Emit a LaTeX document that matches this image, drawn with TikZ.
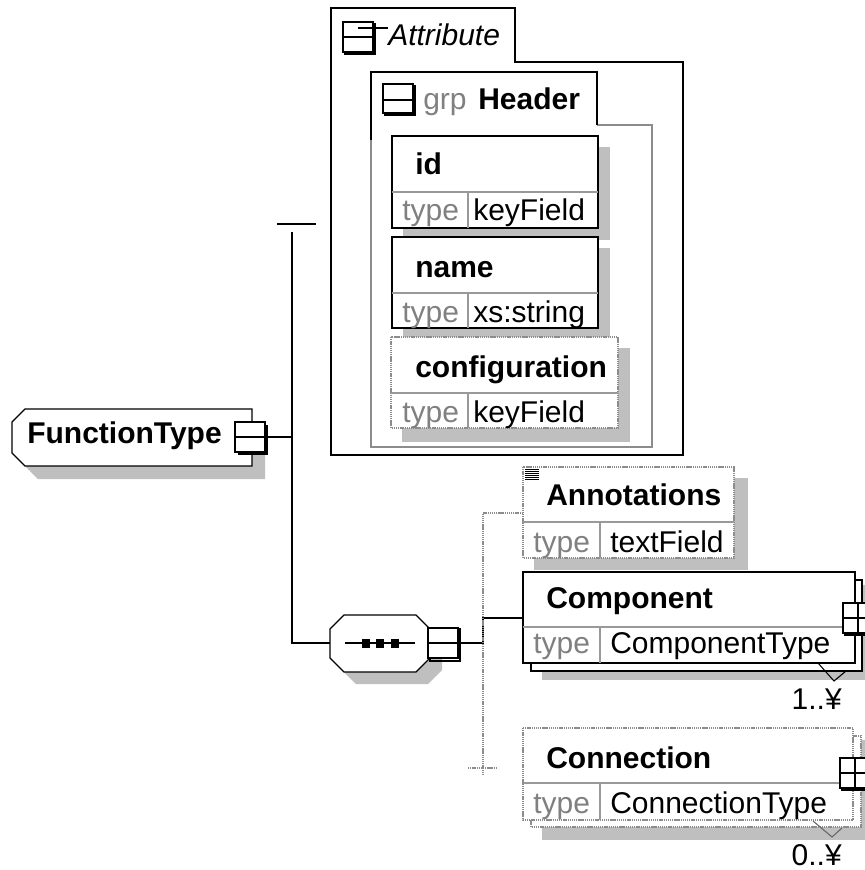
\documentclass[tikz,border=0pt]{standalone}
\usepackage{fontspec}
\setmainfont{Liberation Sans}
\tikzset{
  shade/.style={fill=black!25, draw=none},
  solidbox/.style={draw=black, line width=1pt, fill=white},
  optbox/.style={draw=black!45, line width=0.8pt, dash pattern=on 1pt off 0.6pt, fill=white},
  divider/.style={draw=black!40, line width=0.8pt},
  link/.style={draw=black, line width=1pt},
  optlink/.style={draw=black!45, line width=0.8pt, dash pattern=on 1pt off 0.6pt},
  iconbox/.style={draw=black, line width=1pt, fill=white, minimum size=22.5pt, inner sep=0pt},
  lbl/.style={anchor=base west, inner sep=0pt},
  greylbl/.style={lbl, text=black!50}
}
\begin{document}
\begin{tikzpicture}[x=0.75pt, y=-0.75pt, font=\fontsize{22.5}{27}\selectfont]
\useasboundingbox (0,0) rectangle (864,870);

% attribute frame
\draw[solidbox] (331,455) -- (331,8) -- (515,8) -- (515,62) -- (683,62) -- (683,455) -- cycle;
\draw[line width=1pt] (345,24) rectangle (375,54);
\draw[line width=1pt, fill=white] (343,22) rectangle (373,52);
\draw[line width=0.8pt] (343,37) -- (373,37);
\draw[line width=0.8pt] (358,28) -- (388,28);
\node[lbl] (attr) at (388,46) {\itshape Attribute};

% group Header
\draw[draw=black!45, line width=0.8pt] (597,125) -- (652,125) -- (652,447) -- (371,447) -- (371,125);
\draw[line width=1pt] (371,140) -- (371,72) -- (597,72) -- (597,125);
\draw[line width=1pt] (385,86) rectangle (415,115);
\draw[line width=1pt, fill=white] (383,84) rectangle (413,113);
\draw[line width=0.8pt] (383,100) -- (413,100);
\node[greylbl] (grp) at (423,110) {grp};
\node[lbl] (header) at (478,110) {\bfseries Header};

% id
\fill[shade] (403,147) rectangle (610,240);
\draw[solidbox] (392,136) rectangle (598,228);
\draw[divider] (392,192) -- (598,192) (468,192) -- (468,228);
\node[lbl] (idname) at (415,175) {\bfseries id};
\node[greylbl] (idtype) at (402,220) {type};
\node[lbl] (idval) at (473,220) {keyField};

% name
\fill[shade] (403,248) rectangle (610,340);
\draw[solidbox] (392,237) rectangle (598,328);
\draw[divider] (392,293) -- (598,293) (468,293) -- (468,328);
\node[lbl] (nmname) at (415,277) {\bfseries name};
\node[greylbl] (nmtype) at (402,322) {type};
\node[lbl] (nmval) at (473,322) {xs:string};

% configuration
\fill[shade] (402,348) rectangle (630,442);
\draw[optbox] (391,337) rectangle (618,428);
\draw[divider] (391,393) -- (618,393) (468,393) -- (468,428);
\node[lbl] (cfname) at (415,377) {\bfseries configuration};
\node[greylbl] (cftype) at (402,422) {type};
\node[lbl] (cfval) at (473,422) {keyField};

% FunctionType
\fill[shade] (38,422) -- (265,422) -- (265,479) -- (38,479) -- (25,466) -- (25,435) -- cycle;
\draw[solidbox] (25,409) -- (252,409) -- (252,466) -- (25,466) -- (12,453) -- (12,422) -- cycle;
\node[lbl] (ftname) at (27,443) {\bfseries FunctionType};
\draw[line width=1pt] (239,426) rectangle (267,454);
\node[iconbox] (ftbox) at (250,437) {};
\draw[line width=0.8pt] (ftbox.west) -- (ftbox.east);

% sequence
\fill[shade] (356,627) -- (428,627) -- (442,641) -- (442,670) -- (428,684) -- (356,684) -- (342,670) -- (342,641) -- cycle;
\draw[solidbox] (344,615) -- (416,615) -- (430,629) -- (430,658) -- (416,672) -- (344,672) -- (330,658) -- (330,629) -- cycle;
\coordinate (seqin) at (330,643);
\draw[line width=0.8pt] (345,643) -- (415,643);
\foreach \sx in {362,376,391}
  \fill (\sx,639) rectangle ++(8,9);
\draw[line width=1pt] (430,629) rectangle (460,661);
\node[iconbox] (seqbox) at (443,643) {};
\draw[line width=0.8pt] (seqbox.west) -- (seqbox.east);

% connectors from FunctionType
\coordinate (attrtick) at (296,224);
\draw[link] (277,224) -- (316,224);
\draw[link] (ftbox.east) -- (292,437);
\draw[link] (292,232) -- (292,643) -- (seqin);

% Annotations
\fill[shade] (534,478) rectangle (748,570);
\draw[optbox] (523,467) rectangle (734,558);
\draw[divider] (523,522) -- (734,522) (600,522) -- (600,558);
\foreach \dy in {469,471,...,479}
  \draw[line width=0.6pt] (525,\dy) -- (539,\dy);
\node[lbl] (annname) at (546,505) {\bfseries Annotations};
\node[greylbl] (anntype) at (533,552) {type};
\node[lbl] (annval) at (610,552) {textField};
\coordinate (annin) at (523,513);

% Component
\fill[shade] (542,585) rectangle (870,680);
\draw[solidbox] (531,580) rectangle (862,671);
\draw[solidbox] (523,572) rectangle (855,663);
\draw[divider] (523,627) -- (855,627) (600,627) -- (600,663);
\node[lbl] (compname) at (546,608) {\bfseries Component};
\node[greylbl] (comptype) at (533,653) {type};
\node[lbl] (compval) at (610,653) {ComponentType};
\coordinate (compin) at (523,618);
\draw[line width=1pt] (845,605) rectangle (875,635);
\node[iconbox] (compbox) at (858,618) {};
\draw[line width=0.8pt] (compbox.west) -- (compbox.east) (compbox.north) -- (compbox.south);
\draw[line width=0.8pt] (818,663) -- (834,681) -- (846,671);
\node[anchor=base east, inner sep=0pt] (compocc) at (842,709) {1..¥};

% Connection
\fill[shade] (542,740) rectangle (870,840);
\draw[optbox] (531,736) rectangle (861,827);
\draw[optbox] (523,728) rectangle (853,820);
\draw[divider] (523,783) -- (853,783) (600,783) -- (600,820);
\node[lbl] (conname) at (546,768) {\bfseries Connection};
\node[greylbl] (contype) at (533,813) {type};
\node[lbl] (conval) at (610,813) {ConnectionType};
\draw[line width=1pt] (842,761) rectangle (872,790);
\node[iconbox] (conbox) at (855,773) {};
\draw[line width=0.8pt] (conbox.west) -- (conbox.east) (conbox.north) -- (conbox.south);
\draw[draw=black!60, line width=0.8pt] (813,821) -- (832,837) -- (842,828);
\node[anchor=base east, inner sep=0pt] (conocc) at (842,865) {0..¥};

% connectors from sequence
\draw[link] (seqbox.east) -- (483,643) -- (483,618) -- (compin);
\draw[optlink] (annin) -- (483,513) -- (483,775);
\draw[optlink] (468,768) -- (497,768);
\end{tikzpicture}
\end{document}
